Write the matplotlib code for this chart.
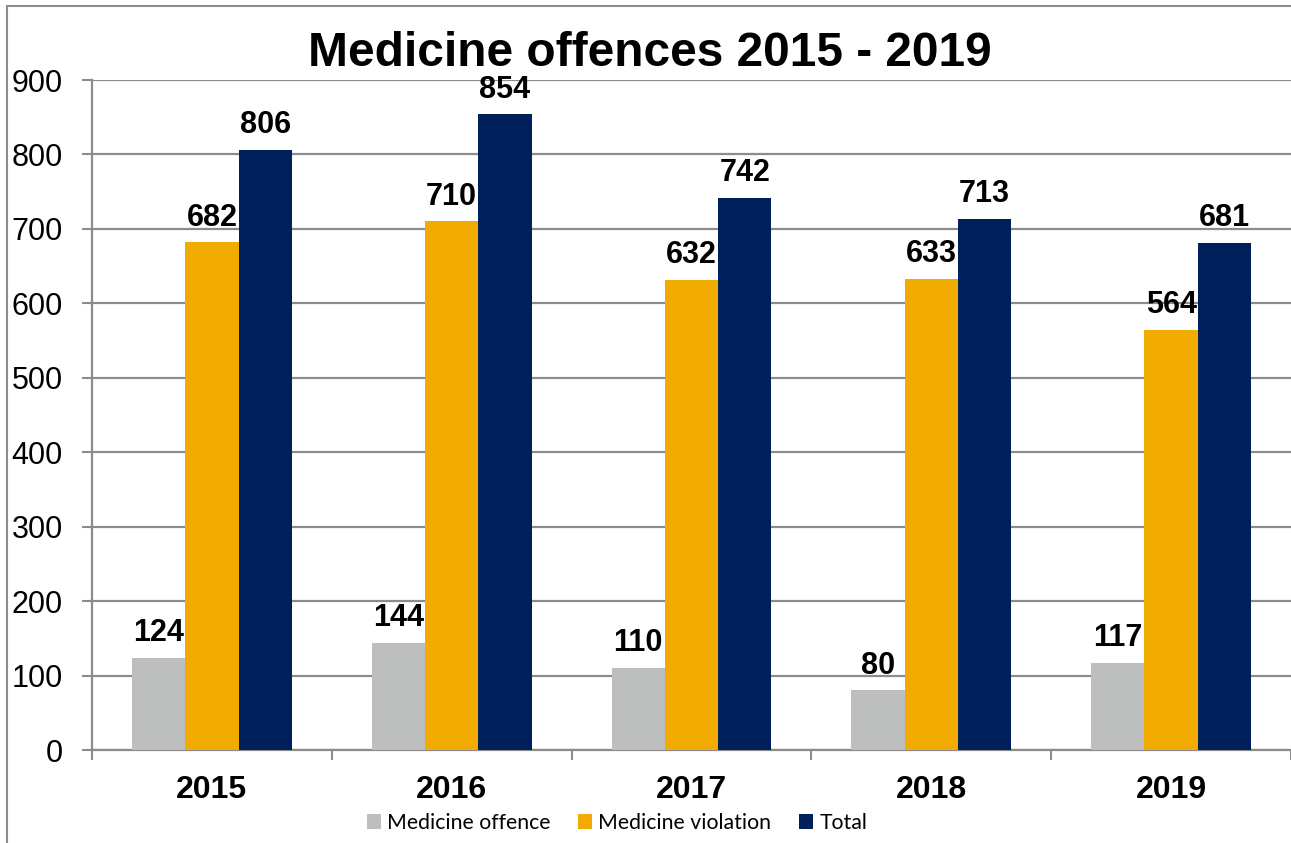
import numpy as np
import matplotlib
matplotlib.use("Agg")
import matplotlib.pyplot as plt
from matplotlib.patches import Rectangle

years = ["2015", "2016", "2017", "2018", "2019"]
offence = [124, 144, 110, 80, 117]
violation = [682, 710, 632, 633, 564]
total = [806, 854, 742, 713, 681]

series = [("Medicine offence", offence, "#BDBFBE"),
          ("Medicine violation", violation, "#F2AB00"),
          ("Total", total, "#00205B")]

plt.rcParams["font.family"] = ["Liberation Sans", "DejaVu Sans"]

fig = plt.figure(figsize=(12.91, 8.43), dpi=100)
ax = fig.add_axes([92 / 1291, 1 - 750 / 843, 1199 / 1291, 670 / 843])

# outer chart border
fig.patches.append(Rectangle((7 / 1291, -0.1), 1.2, (843 - 6) / 843 + 0.1,
                             transform=fig.transFigure, fill=False,
                             edgecolor="#8C8C8C", linewidth=1.5))

x = np.arange(len(years))
w = 0.222
for i, (name, vals, col) in enumerate(series):
    bars = ax.bar(x + (i - 1) * w, vals, w, color=col, label=name, zorder=3)
    for b, v in zip(bars, vals):
        ax.annotate(str(v), (b.get_x() + b.get_width() / 2, v),
                    xytext=(0, 7), textcoords="offset points",
                    ha="center", va="bottom", fontsize=22,
                    fontweight="bold", zorder=5)

ax.set_xlim(-0.5, len(years) - 0.5)
ax.set_ylim(0, 900)
ax.set_yticks(range(0, 901, 100))
ax.yaxis.grid(True, color="#8C8C8C", linewidth=1.6, zorder=0)
ax.set_axisbelow(True)

ax.set_xticks(x)
ax.set_xticklabels(years, fontsize=23, fontweight="bold")
ax.set_xticks(np.arange(-0.5, len(years)), minor=True)
ax.tick_params(axis="x", which="major", length=0, pad=18)
ax.tick_params(axis="x", which="minor", length=7, width=1.5, color="#8C8C8C")
ax.tick_params(axis="y", length=7, width=1.5, color="#8C8C8C",
               labelsize=22, pad=14)

for s in ["top", "right"]:
    ax.spines[s].set_visible(False)
for s in ["left", "bottom"]:
    ax.spines[s].set_color("#8C8C8C")
    ax.spines[s].set_linewidth(1.6)

fig.text(650 / 1291, 1 - 53 / 843, "Medicine offences 2015 - 2019",
         ha="center", va="center", fontsize=34.5, fontweight="bold")

fig.legend(loc="center", bbox_to_anchor=(617 / 1291, 1 - 823 / 843),
           ncol=3, frameon=False, prop={"family": "Lato", "size": 15.3},
           handlelength=0.65, handleheight=0.65, handletextpad=0.3,
           columnspacing=1.3)

fig.savefig("out.png", dpi=100)
